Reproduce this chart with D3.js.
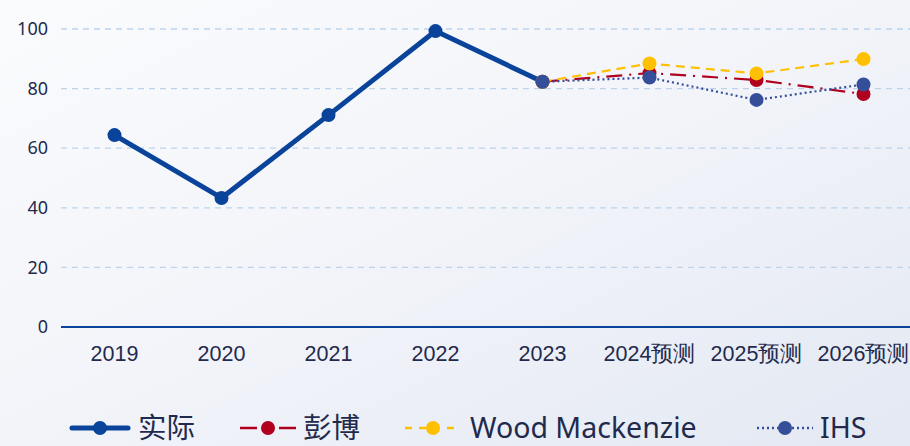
<!DOCTYPE html>
<html>
<head>
<meta charset="utf-8">
<script src="https://cdn.jsdelivr.net/npm/d3@7"></script>
<style>
  html, body { margin: 0; padding: 0; }
  body { width: 910px; height: 446px; overflow: hidden; }
  svg { display: block; font-family: "Noto Sans", "Noto Sans CJK SC", sans-serif; }
</style>
</head>
<body>
<script>
const categories = ["2019", "2020", "2021", "2022", "2023", "2024预测", "2025预测", "2026预测"];
const actual     = [64.4, 43.3, 71.1, 99.3, 82.3, null, null, null];
const bloomberg  = [null, null, null, null, 82.3, 85.2, 82.9, 78.2];
const woodMac    = [null, null, null, null, 82.3, 88.4, 85.1, 89.9];
const ihs        = [null, null, null, null, 82.3, 83.7, 76.2, 81.4];
const yTicks     = [0, 20, 40, 60, 80, 100];

const series = [
  {name: "实际", values: actual, color: "#0a439a", width: 5, dash: null, legDash: null},
  {name: "彭博", values: bloomberg, color: "#b0001e", width: 2.2, dash: "16,7,2,7", legDash: "17,22"},
  {name: "Wood Mackenzie", values: woodMac, color: "#ffc000", width: 2.2, dash: "9,6", legDash: "7,7"},
  {name: "IHS", values: ihs, color: "#354e9a", width: 2.2, dash: "2,3", legDash: "2,3"}
];

const W = 910, H = 446;
const margin = {top: 29, right: -7, bottom: 119, left: 61};
const width  = W - margin.left - margin.right;
const height = H - margin.top - margin.bottom;

const svg = d3.select("body").append("svg")
  .attr("width", W)
  .attr("height", H);

const defs = svg.append("defs");
const grad = defs.append("linearGradient")
  .attr("id", "bg")
  .attr("x1", "0%").attr("y1", "0%")
  .attr("x2", "100%").attr("y2", "100%");
grad.append("stop").attr("offset", "0%").attr("stop-color", "#fafbfd");
grad.append("stop").attr("offset", "45%").attr("stop-color", "#f3f5fa");
grad.append("stop").attr("offset", "100%").attr("stop-color", "#e3e8f2");

svg.append("rect")
  .attr("width", W).attr("height", H)
  .attr("fill", "url(#bg)");

const xScale = d3.scaleBand().domain(categories).range([0, width]);
const yScale = d3.scaleLinear().domain([0, 100]).range([height, 0]);
const xc = (d) => xScale(d) + xScale.bandwidth() / 2;

const g = svg.append("g")
  .attr("transform", `translate(${margin.left},${margin.top})`);

// grid
g.append("g")
  .selectAll("line")
  .data(yTicks.filter(d => d > 0))
  .join("line")
  .attr("x1", 0).attr("x2", W - margin.left)
  .attr("y1", d => yScale(d)).attr("y2", d => yScale(d))
  .attr("stroke", "#bcd3ea")
  .attr("stroke-width", 1.3)
  .attr("stroke-dasharray", "6,5");

// y axis labels
const yAxis = d3.axisLeft(yScale).tickValues(yTicks).tickSize(0).tickPadding(13);
g.append("g")
  .call(yAxis)
  .call(s => s.select(".domain").remove())
  .selectAll("text")
  .attr("font-size", 18)
  .attr("fill", "#1f2a4d")
  .attr("font-family", "\"Noto Sans\", sans-serif");

// x axis
const xAxis = d3.axisBottom(xScale).tickSize(0).tickPadding(19);
g.append("g")
  .attr("transform", `translate(0,${height})`)
  .call(xAxis)
  .call(s => s.select(".domain").remove())
  .selectAll("text")
  .attr("font-size", 21.5)
  .attr("fill", "#1f2a4d");

g.append("line")
  .attr("x1", 0).attr("x2", W - margin.left)
  .attr("y1", height).attr("y2", height)
  .attr("stroke", "#0a439a")
  .attr("stroke-width", 2);

const line = d3.line()
  .defined(d => d.v != null)
  .x(d => xc(d.c))
  .y(d => yScale(d.v));

series.forEach(s => {
  const pts = categories.map((c, i) => ({c: c, v: s.values[i]}));
  g.append("path")
    .datum(pts)
    .attr("fill", "none")
    .attr("stroke", s.color)
    .attr("stroke-width", s.width)
    .attr("stroke-dasharray", s.dash)
    .attr("stroke-linejoin", "round")
    .attr("d", line);
  g.append("g")
    .selectAll("circle")
    .data(pts.filter(d => d.v != null))
    .join("circle")
    .attr("cx", d => xc(d.c))
    .attr("cy", d => yScale(d.v))
    .attr("r", 7)
    .attr("fill", s.color);
});

// legend
const legendX = [72, 240, 405, 757];
const textX   = [66, 63, 65, 63];
const legendY = 428;
const leg = svg.append("g");
series.forEach((s, i) => {
  const lg = leg.append("g").attr("transform", `translate(${legendX[i]},${legendY})`);
  lg.append("line")
    .attr("x1", 0).attr("x2", 56)
    .attr("stroke", s.color)
    .attr("stroke-width", i === 0 ? 5 : 2.4)
    .attr("stroke-linecap", i === 0 ? "round" : "butt")
    .attr("stroke-dasharray", s.legDash);
  lg.append("circle")
    .attr("cx", 28).attr("r", 7)
    .attr("fill", s.color);
  lg.append("text")
    .attr("x", textX[i])
    .attr("y", 0)
    .attr("dy", "0.35em")
    .attr("font-size", 28.5)
    .attr("fill", "#1f2a4d")
    .text(s.name);
});
</script>
</body>
</html>
